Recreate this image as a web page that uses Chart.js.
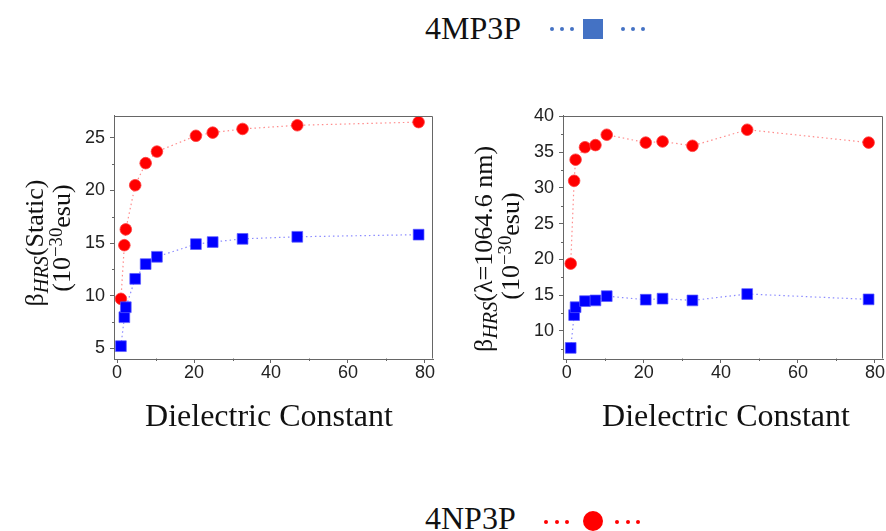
<!DOCTYPE html>
<html>
<head>
<meta charset="utf-8">
<script src="https://cdn.jsdelivr.net/npm/chart.js@4.4.1/dist/chart.umd.min.js"></script>
<style>
  html, body { margin:0; padding:0; background:#fff; }
  body { width:886px; height:531px; position:relative; overflow:hidden; font-family:'Liberation Serif','Times New Roman',serif; color:#111; }
  canvas { position:absolute; }
  .txt { position:absolute; white-space:nowrap; line-height:32px; }
  .ylab { position:absolute; white-space:nowrap; font-size:26px; line-height:26px; transform:translate(-50%,-50%) rotate(-90deg); }
  .ylab sub { font-size:0.78em; font-style:italic; vertical-align:-0.25em; line-height:0; }
  .ylab sup { font-size:0.72em; vertical-align:0.45em; line-height:0; }
  .xlab { position:absolute; white-space:nowrap; font-size:32px; line-height:32px; transform:translateX(-50%); }
  .dot { position:absolute; width:4px; height:4px; border-radius:50%; }
</style>
</head>
<body>

<!-- legend top -->
<div class="txt" style="left:425px; top:12px; font-size:32px;">4MP3P</div>
<div class="dot" style="left:550px; top:27px; background:#4472C4"></div>
<div class="dot" style="left:560px; top:27px; background:#4472C4"></div>
<div class="dot" style="left:570px; top:27px; background:#4472C4"></div>
<div style="position:absolute; left:583px; top:19px; width:20px; height:20px; background:#4472C4"></div>
<div class="dot" style="left:621px; top:27px; background:#4472C4"></div>
<div class="dot" style="left:631px; top:27px; background:#4472C4"></div>
<div class="dot" style="left:641px; top:27px; background:#4472C4"></div>

<canvas id="chart-static" width="445" height="300" style="left:0; top:100px;"></canvas>
<canvas id="chart-dyn" width="443" height="300" style="left:449px; top:100px;"></canvas>

<!-- axis titles -->
<div class="ylab" style="left:35px; top:243px;">β<sub>HRS</sub>(Static)</div>
<div class="ylab" style="left:62px; top:238px;">(10<sup>−30</sup>esu)</div>
<div class="ylab" style="left:484px; top:249px;">β<sub>HRS</sub>(λ=1064.6 nm)</div>
<div class="ylab" style="left:511px; top:246px;">(10<sup>−30</sup>esu)</div>

<div class="xlab" style="left:269px; top:399px;">Dielectric Constant</div>
<div class="xlab" style="left:726px; top:399px;">Dielectric Constant</div>

<!-- legend bottom -->
<div class="txt" style="left:425px; top:502px; font-size:32px;">4NP3P</div>
<div class="dot" style="left:544px; top:520px; background:#ff0000"></div>
<div class="dot" style="left:555px; top:520px; background:#ff0000"></div>
<div class="dot" style="left:565px; top:520px; background:#ff0000"></div>
<div style="position:absolute; left:583px; top:511px; width:20px; height:20px; border-radius:50%; background:#ff0000"></div>
<div class="dot" style="left:615px; top:520px; background:#ff0000"></div>
<div class="dot" style="left:626px; top:520px; background:#ff0000"></div>
<div class="dot" style="left:636px; top:520px; background:#ff0000"></div>

<script>
// ── Data ──────────────────────────────────────────────────────────────
const dielectric  = [1, 1.89, 2.27, 4.71, 7.43, 10.36, 20.49, 24.85, 32.61, 46.83, 78.36];

// static beta (left panel)
const staticNP    = [9.7, 14.8, 16.3, 20.5, 22.6, 23.7, 25.2, 25.5, 25.85, 26.2, 26.5];
const staticMP    = [5.2, 7.95, 8.9, 11.6, 13.0, 13.7, 14.9, 15.1, 15.4, 15.6, 15.8];

// beta at 1064.6 nm (right panel)
const dynNP       = [19.4, 31.0, 33.95, 35.7, 36.0, 37.45, 36.35, 36.5, 35.9, 38.15, 36.35];
const dynMP       = [7.6, 12.2, 13.3, 14.15, 14.25, 14.85, 14.35, 14.5, 14.25, 15.15, 14.4];

const xTicks      = [0, 20, 40, 60, 80];
const yTicksStat  = [5, 10, 15, 20, 25];
const yTicksDyn   = [10, 15, 20, 25, 30, 35, 40];

const AXIS = '#666';
const TICK_FONT = { family: "'Liberation Sans', Arial, sans-serif", size: 18 };

// ── Frame + minor ticks ───────────────────────────────────────────────
const frameTicks = {
    id: 'frameTicks',
    afterDraw(chart, args, opts) {
        const { ctx, chartArea: a, scales: { x, y } } = chart;
        const L = Math.round(a.left) + .5, R = Math.round(a.right) - .5;
        const T = Math.round(a.top) + .5,  B = Math.round(a.bottom) - .5;
        ctx.save();
        ctx.strokeStyle = AXIS;
        ctx.lineWidth = 1;
        ctx.beginPath();
        ctx.moveTo(L, T); ctx.lineTo(R, T); ctx.lineTo(R, B);
        // minor ticks
        for (let v = opts.xMinor; v < x.max; v += opts.xStep) {
            if (v < x.min) continue;
            const px = Math.round(x.getPixelForValue(v)) + .5;
            ctx.moveTo(px, B); ctx.lineTo(px, B + 2.5);
        }
        for (let v = opts.yMinor; v < y.max; v += opts.yStep) {
            if (v < y.min) continue;
            const py = Math.round(y.getPixelForValue(v)) + .5;
            ctx.moveTo(L, py); ctx.lineTo(L - 2.5, py);
        }
        ctx.stroke();
        ctx.restore();
    }
};

function series(xs, ys) {
    return xs.map((x, i) => ({ x, y: ys[i] }));
}

function makeChart(id, np, mp, xr, yr, yTicks, padRight, yMinor) {
    const ctx = document.getElementById(id).getContext('2d');
    return new Chart(ctx, {
        type: 'scatter',
        data: {
            datasets: [
                {
                    data: series(dielectric, mp),
                    showLine: true,
                    borderColor: 'rgba(110,110,255,.8)',
                    borderWidth: 1.2,
                    borderDash: [1.5, 3],
                    pointStyle: 'rect',
                    pointRadius: 7.6,
                    pointBackgroundColor: '#0000ff',
                    pointBorderColor: 'rgba(90,90,255,.7)',
                    pointBorderWidth: 1,
                },
                {
                    data: series(dielectric, np),
                    showLine: true,
                    borderColor: 'rgba(255,110,110,.8)',
                    borderWidth: 1.2,
                    borderDash: [1.5, 3],
                    pointStyle: 'circle',
                    pointRadius: 5.8,
                    pointBackgroundColor: '#ff0000',
                    pointBorderColor: 'rgba(255,60,60,.8)',
                    pointBorderWidth: 1,
                },
            ]
        },
        options: {
            responsive: false,
            animation: false,
            layout: { padding: { top: 15, right: padRight, left: 0, bottom: 0 } },
            plugins: {
                legend: { display: false },
                tooltip: { enabled: false },
                frameTicks: { xMinor: 10, xStep: 20, yMinor: yMinor, yStep: 5 },
            },
            scales: {
                x: {
                    type: 'linear', min: xr[0], max: xr[1],
                    afterBuildTicks: s => { s.ticks = xTicks.map(v => ({ value: v })); },
                    afterFit: s => { s.height = 41; },
                    grid: { drawOnChartArea: false, color: AXIS, tickLength: 4 },
                    border: { color: AXIS },
                    ticks: { color: '#222', padding: -1, font: TICK_FONT },
                },
                y: {
                    type: 'linear', min: yr[0], max: yr[1],
                    afterBuildTicks: s => { s.ticks = yTicks.map(v => ({ value: v })); },
                    afterFit: s => { s.width = 114; },
                    grid: { drawOnChartArea: false, color: AXIS, tickLength: 4 },
                    border: { color: AXIS },
                    ticks: { color: '#222', padding: 5, font: TICK_FONT },
                },
            }
        },
        plugins: [frameTicks]
    });
}

makeChart('chart-static', staticNP, staticMP, [-0.8, 82.1], [3.98, 27.1], yTicksStat, 12, 7.5);
makeChart('chart-dyn',    dynNP,    dynMP,    [-1.0, 82.2], [6.05, 40.1], yTicksDyn, 3, 7.5);
</script>
</body>
</html>
